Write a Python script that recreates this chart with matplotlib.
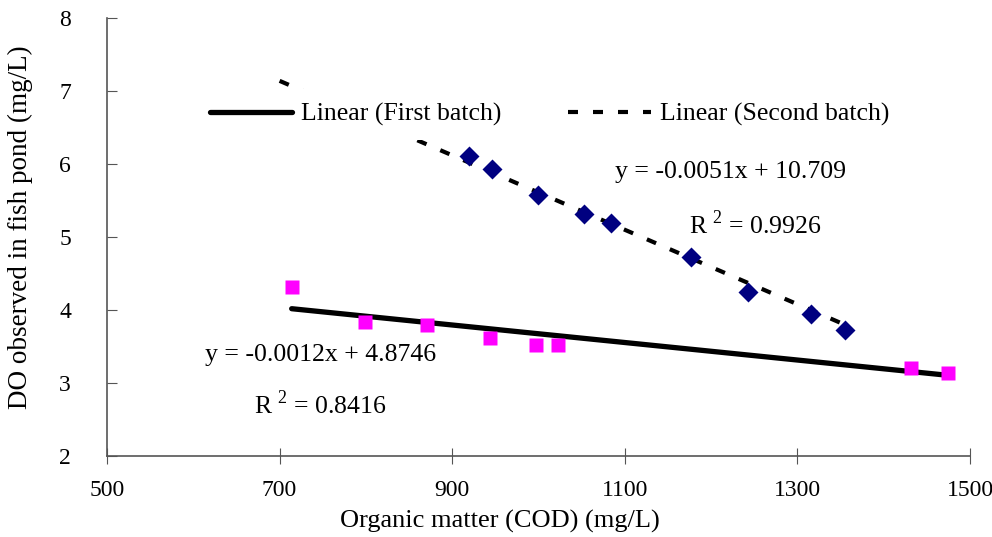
import matplotlib
matplotlib.use("Agg")
import matplotlib.pyplot as plt
import numpy as np

# first batch (pink squares)
cod_first = [714, 799, 871, 944, 997, 1023, 1432, 1474]
do_first = [4.32, 3.83, 3.79, 3.62, 3.52, 3.52, 3.21, 3.14]

# second batch (navy diamonds)
cod_second = [919, 946, 999, 1053, 1084, 1177, 1243, 1316, 1355]
do_second = [6.11, 5.93, 5.57, 5.31, 5.19, 4.73, 4.25, 3.95, 3.73]

# trendline coefficients shown on the chart
fit_first = (-0.0012, 4.8746)
fit_second = (-0.0051, 10.709)
range_first = (714, 1474)
range_second = (700, 1360)

plt.rcParams["font.family"] = ["Liberation Serif", "DejaVu Serif"]
plt.rcParams["mathtext.fontset"] = "custom"
plt.rcParams["mathtext.rm"] = "Liberation Serif"
FS = 18.5

fig = plt.figure(figsize=(9.92, 5.37), dpi=100)
ax = fig.add_axes([107 / 992, 1 - 456 / 537, (970 - 107) / 992, (456 - 18) / 537])

xs1 = np.array(range_first)
xs2 = np.array(range_second)
ax.plot(xs1, fit_first[0] * xs1 + fit_first[1], color="black", lw=3.8,
        solid_capstyle="round", label="Linear (First batch)", zorder=2)
ax.plot(xs2, fit_second[0] * xs2 + fit_second[1], color="black", lw=3.0,
        linestyle=(0, (2.4, 3.6)), label="Linear (Second batch)", zorder=2)

ax.plot(cod_first, do_first, "s", color="#FF00FF", ms=10, mec="none", zorder=3)
ax.plot(cod_second, do_second, "D", color="#000080", ms=10, mec="none", zorder=3)

ax.set_xlim(500, 1500)
ax.set_ylim(2, 8)
ax.set_xticks([500, 700, 900, 1100, 1300, 1500])
ax.set_yticks(range(2, 9))
ax.tick_params(axis="y", direction="in", length=7, color="#555555", labelsize=17, pad=26)
ax.tick_params(axis="x", direction="inout", length=11, color="#555555", labelsize=17, pad=12)
for s in ["top", "right"]:
    ax.spines[s].set_visible(False)
for s in ["left", "bottom"]:
    ax.spines[s].set_color("#555555")
    ax.spines[s].set_linewidth(1.2)

ax.set_xlabel("Organic matter (COD) (mg/L)", fontsize=19)
ax.xaxis.set_label_coords(0.455, -0.124)
ax.set_ylabel("DO observed in fish pond (mg/L)", fontsize=19.5)
ax.yaxis.set_label_coords(-0.086, 0.523)

leg = ax.legend(ncol=2, loc="center left", bbox_to_anchor=(0.103, 0.78), frameon=True,
                fontsize=FS, handlelength=3.2, columnspacing=2.6, handletextpad=0.35,
                borderaxespad=0, borderpad=0.55)
leg.get_frame().set_edgecolor("none")
leg.get_frame().set_facecolor("white")
leg.get_frame().set_alpha(1)

ax.text(1222, 5.89, "y = -0.0051x + 10.709", fontsize=FS, ha="center", va="center")
ax.text(1251, 5.17, "R$^{\\ 2}$ = 0.9926", fontsize=FS, ha="center", va="center")
ax.text(747, 3.39, "y = -0.0012x + 4.8746", fontsize=FS, ha="center", va="center")
ax.text(747, 2.70, "R$^{\\ 2}$ = 0.8416", fontsize=FS, ha="center", va="center")

fig.savefig("out.png", dpi=100)
